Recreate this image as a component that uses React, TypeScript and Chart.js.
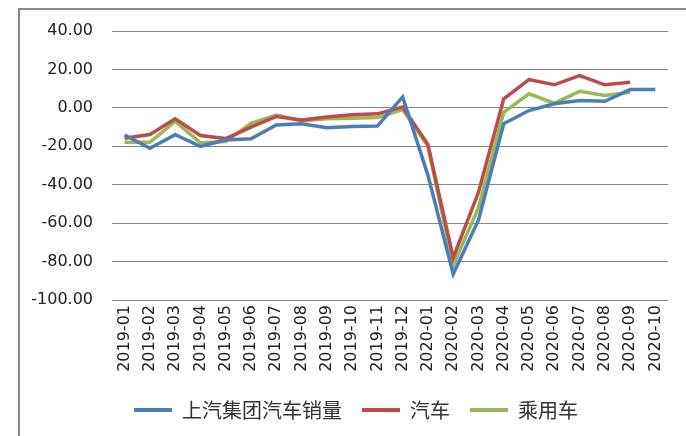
import React, { useEffect, useRef } from "react";
import { Chart, registerables } from "chart.js";

Chart.register(...registerables);

const categories = [
  "2019-01", "2019-02", "2019-03", "2019-04", "2019-05", "2019-06", "2019-07", "2019-08", "2019-09", "2019-10", "2019-11", "2019-12",
  "2020-01", "2020-02", "2020-03", "2020-04", "2020-05", "2020-06", "2020-07", "2020-08", "2020-09", "2020-10",
];
const saicSales = [-14.1, -21, -14, -20, -16.7, -16.1, -8.9, -8.3, -10.3, -9.7, -9.5, 5.7, -35, -86.5, -58.5, -8.3, -1.4, 2.1, 3.8, 3.4, 9.5, 9.5];
const autos = [-15.8, -13.9, -5.7, -14.4, -16, -10, -4.5, -6.3, -4.7, -3.6, -3.1, 0.5, -19, -78, -44, 4.7, 14.7, 12, 16.8, 12, 13.3];
const passengerCars = [-17.9, -17.9, -7, -18.2, -17.5, -8, -3.7, -6.8, -5.7, -5.4, -5, -0.9, -20, -82, -52, -2.3, 7.3, 2.4, 8.6, 6.4, 8.1];
const seriesNames = ["上汽集团汽车销量", "汽车", "乘用车"];
const seriesColors = ["#4A7EBB", "#BE4B48", "#98B954"];
const yMin = -100;
const yMax = 40;
const yStep = 20;

const legendShift = {
  id: "legendShift",
  afterUpdate(chart: any) {
    if (chart.legend) {
      chart.legend.left += 22;
      chart.legend.right += 22;
    }
  },
};

export default function App() {
  const ref = useRef<HTMLCanvasElement | null>(null);
  useEffect(() => {
    if (!ref.current) return;
    const values = [saicSales, autos, passengerCars];
    const chart = new Chart(ref.current, {
      type: "line",
      data: {
        labels: categories,
        datasets: values.map((v, i) => ({
          label: seriesNames[i],
          data: v,
          borderColor: seriesColors[i],
          backgroundColor: seriesColors[i],
          borderWidth: 3.5,
          pointRadius: 0,
          tension: 0,
          fill: false,
        })),
      },
      plugins: [legendShift],
      options: {
        animation: false,
        responsive: false,
        layout: { padding: { left: 0, right: 18, top: 31, bottom: 6 } },
        plugins: {
          tooltip: { enabled: false },
          legend: {
            position: "bottom",
            labels: {
              boxWidth: 38,
              boxHeight: 4,
              padding: 20,
              color: "#333",
              font: { family: "'Noto Sans CJK SC'", size: 20 },
              generateLabels: (c: any) =>
                Chart.defaults.plugins.legend.labels.generateLabels(c).map((it: any) => ({ ...it, lineWidth: 0 })),
            },
          },
        },
        scales: {
          x: {
            offset: true,
            grid: { display: false, drawTicks: false },
            border: { display: false },
            ticks: {
              autoSkip: false,
              maxRotation: 90,
              minRotation: 90,
              padding: 5,
              color: "#222",
              font: { family: "'DejaVu Sans'", size: 16 },
            },
            afterFit: (s: any) => {
              s.height = 80;
            },
          },
          y: {
            min: yMin,
            max: yMax,
            grid: { color: "#868686", lineWidth: 1, drawTicks: false },
            border: { display: false },
            ticks: {
              stepSize: yStep,
              padding: 19,
              color: "#222",
              font: { family: "'DejaVu Sans'", size: 16 },
              callback: (v: any) => Number(v).toFixed(2),
            },
            afterFit: (s: any) => {
              s.width = 112;
            },
          },
        },
      },
    });
    return () => chart.destroy();
  }, []);
  return (
    <div style={{ position: "absolute", left: 0, top: 0, width: 686, height: 436, background: "#fff" }}>
      <div
        style={{
          position: "absolute",
          left: 18,
          top: 8,
          width: 668,
          height: 428,
          borderLeft: "2px solid #8a8a8a",
          borderTop: "2px solid #8a8a8a",
        }}
      />
      <canvas ref={ref} width={686} height={436} style={{ position: "absolute", left: 0, top: 0 }} />
    </div>
  );
}
